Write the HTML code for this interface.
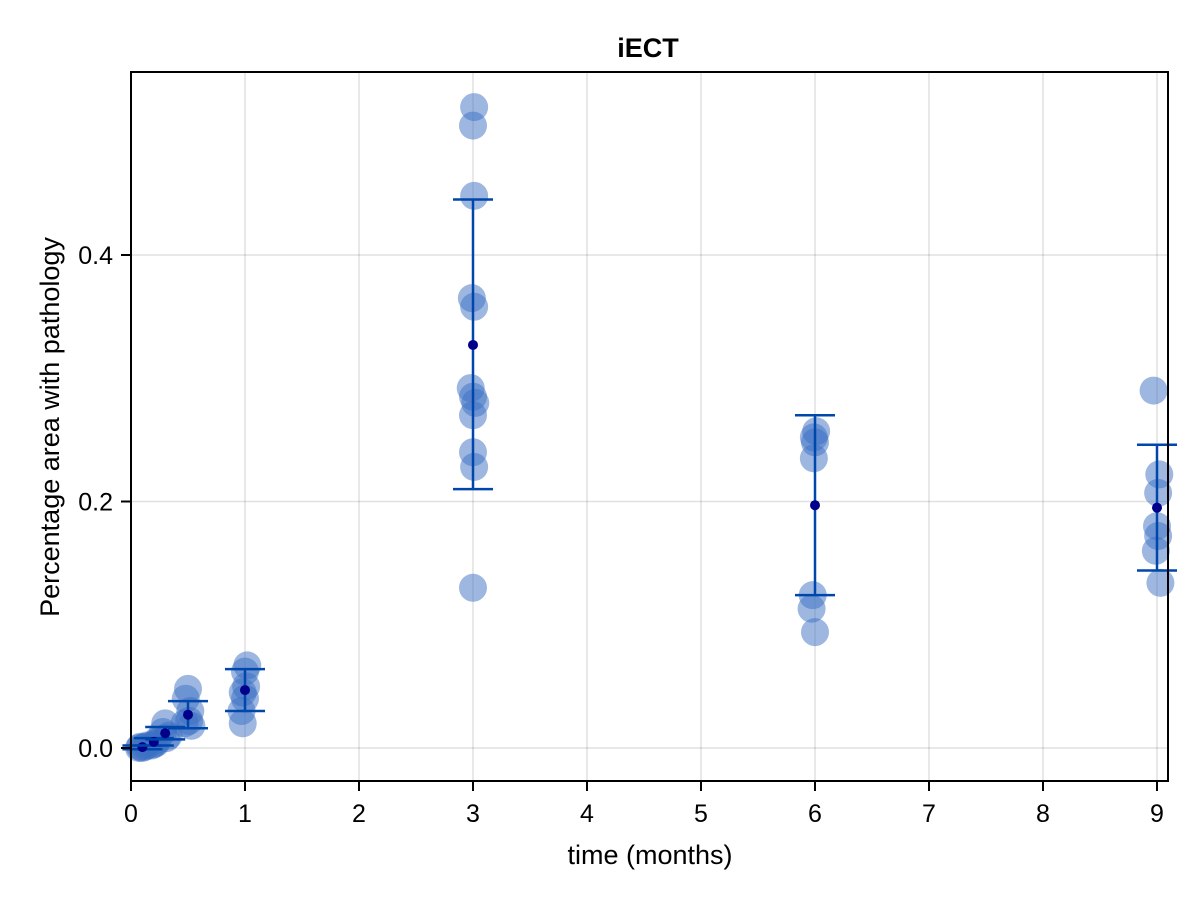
<!DOCTYPE html>
<html><head><meta charset="utf-8"><style>
body{margin:0;background:#fff}
svg{font-family:"Liberation Sans",sans-serif}
</style></head><body>
<svg id="c" width="1200" height="900" xmlns="http://www.w3.org/2000/svg"></svg>
<script>
const times=[0.1,0.2,0.3,0.5,1,3,6,9];
const pointValues=[
 [0.0,0.001,0.0,0.002,0.001],
 [0.002,0.004,0.003,0.006],
 [0.02,0.013,0.01,0.008],
 [0.048,0.04,0.03,0.022,0.02,0.018],
 [0.067,0.062,0.05,0.045,0.04,0.03,0.02],
 [0.52,0.505,0.448,0.365,0.358,0.292,0.285,0.28,0.27,0.24,0.228,0.13],
 [0.257,0.252,0.248,0.235,0.124,0.113,0.094],
 [0.29,0.222,0.207,0.18,0.172,0.16,0.134]];
const pointJitter=[
 [-0.03,0.02,0.0,0.04,-0.02],
 [-0.02,0.02,0.0,0.03],
 [0.0,-0.02,0.03,0.01],
 [0.0,-0.02,0.02,0.01,-0.03,0.03],
 [0.02,0.0,0.01,-0.02,0.0,-0.03,-0.02],
 [0.01,0.0,0.01,-0.01,0.01,-0.02,0.0,0.02,0.0,0.0,0.01,0.0],
 [0.01,-0.01,0.0,-0.01,-0.02,-0.03,0.0],
 [-0.03,0.02,0.01,0.0,0.01,-0.01,0.03]];
const means=[0.0007,0.005,0.012,0.027,0.047,0.327,0.197,0.195];
const upper=[0.002,0.008,0.017,0.038,0.064,0.445,0.27,0.246];
const lower=[-0.001,0.002,0.007,0.016,0.030,0.21,0.124,0.144];
const xTicks=[0,1,2,3,4,5,6,7,8,9];
const yTicks=[0,0.2,0.4];
const yTickLabels=["0.0","0.2","0.4"];

const L=131,R=1168,T=72,B=781;
const X=v=>L+v*114;
const Y=v=>748-v*1232.5;
const svg=document.getElementById('c');
const NS='http://www.w3.org/2000/svg';
function mk(tag,attrs,name,parent){const e=document.createElementNS(NS,tag);for(const k in attrs)e.setAttribute(k,attrs[k]);


(parent||svg).appendChild(e);return e;}
mk('rect',{x:0,y:0,width:1200,height:900,fill:'#fff'},'background');
const grid=mk('g',{},'gridlines');
xTicks.forEach(t=>mk('line',{x1:X(t),x2:X(t),y1:T,y2:B,stroke:'#000','stroke-opacity':0.12,'stroke-width':1.5},'x-gridline',grid));
yTicks.forEach(t=>mk('line',{x1:L,x2:R,y1:Y(t),y2:Y(t),stroke:'#000','stroke-opacity':0.12,'stroke-width':1.5},'y-gridline',grid));
const pts=mk('g',{},'scatter-points');
pointValues.forEach((arr,i)=>arr.forEach((v,j)=>mk('circle',{cx:X(times[i]+pointJitter[i][j]),cy:Y(v),r:14,fill:'rgb(59,111,196)','fill-opacity':0.5},'data-point',pts)));
const eb=mk('g',{},'error-bars');
times.forEach((t,i)=>{const x=X(t);
 mk('line',{x1:x,x2:x,y1:Y(upper[i]),y2:Y(lower[i]),stroke:'#0047ab','stroke-width':2.5},'error-bar',eb);
 mk('line',{x1:x-20,x2:x+20,y1:Y(upper[i]),y2:Y(upper[i]),stroke:'#0047ab','stroke-width':2.5},'error-cap-upper',eb);
 mk('line',{x1:x-20,x2:x+20,y1:Y(lower[i]),y2:Y(lower[i]),stroke:'#0047ab','stroke-width':2.5},'error-cap-lower',eb);
 mk('circle',{cx:x,cy:Y(means[i]),r:5,fill:'#00008b'},'mean-marker',eb);});
mk('rect',{x:L,y:T,width:R-L,height:B-T,fill:'none',stroke:'#000','stroke-width':2},'plot-frame');
const xa=mk('g',{},'x-axis');
xTicks.forEach(t=>{mk('line',{x1:X(t),x2:X(t),y1:B,y2:B+10,stroke:'#000','stroke-width':2},'x-tick',xa);
 const tx=mk('text',{x:X(t),y:822,'font-size':25,'text-anchor':'middle'},'x-tick-label',xa);tx.textContent=t;});
const ya=mk('g',{},'y-axis');
yTicks.forEach((t,i)=>{mk('line',{x1:L-10,x2:L,y1:Y(t),y2:Y(t),stroke:'#000','stroke-width':2},'y-tick',ya);
 const tx=mk('text',{x:113,y:Y(t)+9,'font-size':25,'text-anchor':'end'},'y-tick-label',ya);tx.textContent=yTickLabels[i];});
let e=mk('text',{x:650,y:864,'font-size':27,'text-anchor':'middle'},'x-axis-title');e.textContent='time (months)';
e=mk('text',{x:59,y:427,'font-size':27,'text-anchor':'middle',transform:'rotate(-90 59 427)'},'y-axis-title');e.textContent='Percentage area with pathology';
e=mk('text',{x:648,y:57,'font-size':27,'font-weight':'bold','text-anchor':'middle'},'chart-title');e.textContent='iECT';
</script>
</body></html>
